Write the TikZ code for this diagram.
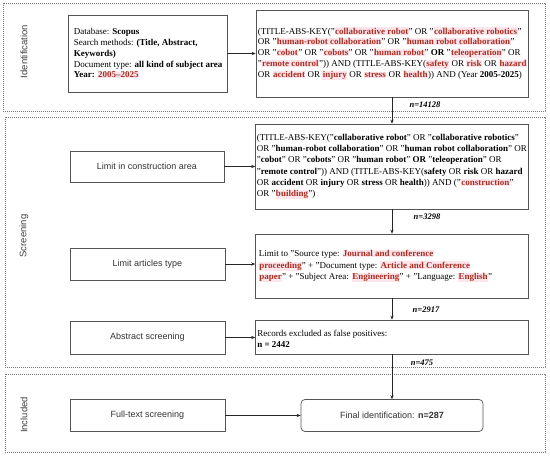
\documentclass[tikz,border=0pt]{standalone}
\usepackage{fontspec}
\setmainfont{Liberation Serif}
\newfontfamily\sansf{Liberation Sans}
\usetikzlibrary{arrows.meta}
\definecolor{kred}{RGB}{168,46,34}
\definecolor{hlpink}{RGB}{253,229,236}
\definecolor{boxgray}{RGB}{85,85,85}
\definecolor{framegray}{RGB}{120,120,120}
\newcommand{\hlw}[1]{{\setlength{\fboxsep}{0.4pt}\colorbox{hlpink}{\textcolor{kred}{\textbf{#1}}}}}
\newcommand{\kb}[1]{\textbf{#1}}
\tikzset{
  boxshape/.style={draw=boxgray, line width=0.7pt, inner sep=0pt, fill=white},
  qtext/.style={anchor=west, align=left, inner sep=0pt, font=\fontsize{9}{10.8}\selectfont},
  sidetext/.style={font=\sansf\fontsize{9}{11}\selectfont, text=black!80},
  frame/.style={draw=framegray, line width=0.7pt, dash pattern=on 0.9pt off 1.1pt},
  framelabel/.style={font=\sansf\fontsize{9.5}{11}\selectfont, text=black!75, rotate=90},
  nlabel/.style={font=\fontsize{8.5}{10}\selectfont\bfseries\itshape, inner sep=0pt},
  arr/.style={draw=black!85, line width=0.6pt, -{Stealth[length=4pt,width=3.2pt]}}
}
\begin{document}
\begin{tikzpicture}[x=1pt,y=-1pt]
\useasboundingbox (0,0) rectangle (550,457);
% frames
\draw[frame] (3,3) rectangle (545,111);
\draw[frame] (5,117) rectangle (545,367);
\draw[frame] (5,374) rectangle (545,452);
\node[framelabel] (lid) at (24,51.5) {Identification};
\node[framelabel] (lsc) at (24,236) {Screening};
\node[framelabel] (lin) at (24,415) {Included};

% Identification
\node[boxshape, minimum width=159pt, minimum height=77pt] (db) at (147.5,53.5) {};
\node[qtext] (dbt) at ([xshift=6pt]db.west) {Database: \kb{Scopus}\\
Search methods: \kb{(Title, Abstract,}\\
\kb{Keywords)}\\
Document type: \kb{all kind of subject area}\\
\kb{Year:} \hlw{2005--2025}};

\node[boxshape, minimum width=272pt, minimum height=87pt] (q1) at (392,53.5) {};
\node[qtext] (q1t) at ([xshift=2pt]q1.west) {(TITLE-ABS-KEY("\hlw{collaborative robot}" OR "\hlw{collaborative robotics}"\\
OR "\hlw{human-robot collaboration}" OR "\hlw{human robot collaboration}"\\
OR "\hlw{cobot}" OR "\hlw{cobots}" OR "\hlw{human robot}" \kb{OR} "\hlw{teleoperation}" OR\\
"\hlw{remote control}")) AND (TITLE-ABS-KEY(\hlw{safety} OR \hlw{risk} OR \hlw{hazard}\\
OR \hlw{accident} OR \hlw{injury} OR \hlw{stress} OR \hlw{health})) AND (Year \kb{2005-2025})};

% Screening
\node[boxshape, minimum width=154pt, minimum height=31pt, sidetext] (lc) at (147,166.5) {Limit in construction area};
\node[boxshape, minimum width=273pt, minimum height=85pt] (q2) at (392,166.5) {};
\node[qtext, font=\fontsize{9}{11.2}\selectfont] (q2t) at ([xshift=1.5pt]q2.west) {(TITLE-ABS-KEY("\kb{collaborative robot}" OR "\kb{collaborative robotics}"\\
OR "\kb{human-robot collaboration}" OR "\kb{human robot collaboration}" OR\\
"\kb{cobot}" OR "\kb{cobots}" OR "\kb{human robot}" \kb{OR} "\kb{teleoperation}" OR\\
"\kb{remote control}")) AND (TITLE-ABS-KEY(\kb{safety} OR \kb{risk} OR \kb{hazard}\\
OR \kb{accident} OR \kb{injury} OR \kb{stress} OR \kb{health})) AND ("\hlw{construction}"\\
OR "\hlw{building}")};

\node[boxshape, minimum width=155pt, minimum height=32pt, sidetext] (la) at (147.5,264) {Limit articles type};
\node[boxshape, minimum width=273pt, minimum height=64pt] (q3) at (392,266) {};
\node[qtext, font=\fontsize{9}{11.5}\selectfont] (q3t) at ([xshift=3.5pt]q3.west) {Limit to "Source type: \hlw{Journal and conference}\\
\hlw{proceeding}" + "Document type: \hlw{Article and Conference}\\
\hlw{paper}" + "Subject Area: \hlw{Engineering}" + "Language: \hlw{English}"};

\node[boxshape, minimum width=155pt, minimum height=33pt, sidetext] (as) at (147.5,337.5) {Abstract screening};
\node[boxshape, minimum width=273pt, minimum height=34pt] (q4) at (392,337) {};
\node[qtext, font=\fontsize{9}{11.2}\selectfont] (q4t) at ([xshift=2pt,yshift=-2pt]q4.west) {Records excluded as false positives:\\
\kb{n = 2442}};

% Included
\node[boxshape, minimum width=155pt, minimum height=32pt, sidetext] (ft) at (147.5,415.5) {Full-text screening};
\node[boxshape, rounded corners=4pt, minimum width=182pt, minimum height=32pt, sidetext] (fi) at (392,415.5) {Final identification: \textbf{n=287}};

% connectors
\draw[arr] (db.east) -- (db.east -| q1.west);
\draw[arr] (lc.east) -- (lc.east -| q2.west);
\draw[arr] (la.east) -- (la.east -| q3.west);
\draw[arr] (as.east) -- (as.east -| q4.west);
\draw[arr] (ft.east) -- (fi.west);
\draw[arr] (q1.south) -- (q2.north);
\draw[arr] (q2.south) -- (q3.north);
\draw[arr] (q3.south) -- (q4.north);
\draw[arr] (q4.south) -- (fi.north);

% counts
\node[nlabel] (n1) at (425,105) {n=14128};
\node[nlabel] (n2) at (427,217) {n=3298};
\node[nlabel] (n3) at (426,310) {n=2917};
\node[nlabel] (n4) at (422,363) {n=475};
\end{tikzpicture}
\end{document}
